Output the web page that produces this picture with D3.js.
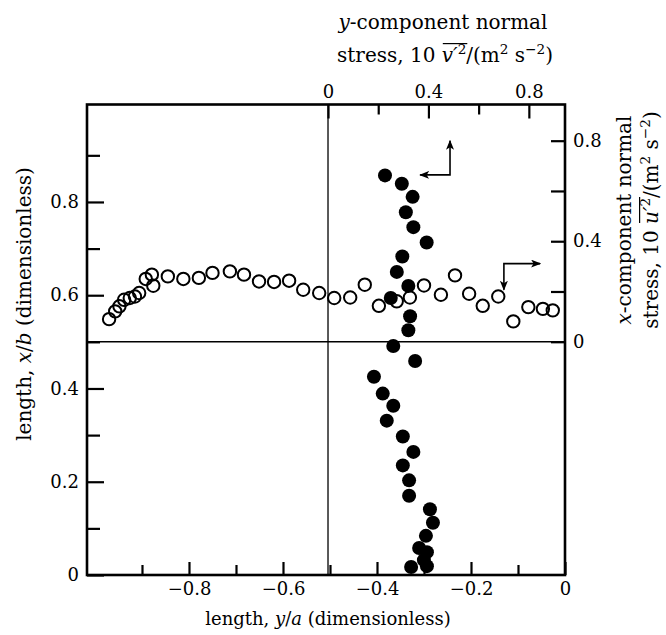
<!DOCTYPE html>
<html>
<head>
<meta charset="utf-8">
<script src="https://cdn.jsdelivr.net/npm/d3@7/dist/d3.min.js"></script>
<style>
  body { margin: 0; background: #fff; }
  svg { display: block; }
  text { font-family: "DejaVu Serif", "Liberation Serif", serif; fill: #000; }
</style>
</head>
<body>
<div id="chart"></div>
<script>
// filled circles: y-component normal stress (top axis) against x/b (left axis)
const filledV  = [0.227, 0.294, 0.337, 0.310, 0.340, 0.393, 0.296, 0.274, 0.320, 0.250,
                  0.327, 0.320, 0.260, 0.347, 0.183, 0.218, 0.260, 0.234, 0.298, 0.340,
                  0.298, 0.323, 0.323, 0.406, 0.418, 0.390, 0.363, 0.394, 0.382, 0.394, 0.331];
const filledXb = [0.857, 0.839, 0.811, 0.778, 0.746, 0.713, 0.683, 0.650, 0.620, 0.594,
                  0.555, 0.525, 0.491, 0.459, 0.425, 0.389, 0.363, 0.331, 0.297, 0.264,
                  0.235, 0.203, 0.170, 0.141, 0.112, 0.084, 0.058, 0.049, 0.032, 0.019, 0.017];

// open circles: y/a (bottom axis) against x-component normal stress (right axis)
const openYa = [-0.970, -0.957, -0.948, -0.938, -0.926, -0.915, -0.906, -0.892, -0.879, -0.876,
                -0.845, -0.812, -0.779, -0.750, -0.713, -0.683, -0.651, -0.619, -0.587, -0.557,
                -0.523, -0.491, -0.457, -0.426, -0.396, -0.358, -0.330, -0.300, -0.264, -0.234,
                -0.204, -0.175, -0.142, -0.110, -0.078, -0.047, -0.026];
const openU  = [0.090, 0.121, 0.141, 0.167, 0.174, 0.180, 0.194, 0.250, 0.267, 0.223,
                0.260, 0.250, 0.254, 0.274, 0.280, 0.267, 0.240, 0.238, 0.243, 0.207,
                0.194, 0.174, 0.176, 0.227, 0.143, 0.161, 0.176, 0.224, 0.187, 0.264,
                0.191, 0.143, 0.180, 0.081, 0.138, 0.131, 0.125];

const bottomMajor = [-0.8, -0.6, -0.4, -0.2, 0];
const bottomMinor = [-0.9, -0.7, -0.5, -0.3, -0.1];
const leftMajor = [0, 0.2, 0.4, 0.6, 0.8];
const leftMinor = [0.1, 0.3, 0.5, 0.7, 0.9];
const topMajor = [0, 0.4, 0.8];
const topMinor = [0.2, 0.6];
const rightMajor = [0, 0.4, 0.8];
const rightMinor = [0.2, 0.6];

const W = 666, H = 635;
const L = 87, R = 565, T = 104.5, B = 575;

const svg = d3.select("#chart").append("svg")
  .attr("width", W).attr("height", H);

const xBot = d3.scaleLinear().domain([-1.017, 0]).range([L, R]);
const yLeft = d3.scaleLinear().domain([0, 1.009]).range([B, T]);
const xTop = d3.scaleLinear().domain([-0.96, 0.944]).range([L, R]);
const yRight = d3.scaleLinear().domain([-0.928, 0.944]).range([B, T]);

const fmt = d => d === 0 ? "0" : d3.format(".1f")(d);

function styleAxis(g) {
  g.select(".domain").remove();
  g.attr("font-family", null).attr("font-size", 18);
  g.selectAll("line").attr("stroke", "#000").attr("stroke-width", 2.2);
  g.selectAll("text").style("font-family", "'DejaVu Serif', serif");
}

// bottom
svg.append("g").attr("transform", `translate(0,${B})`)
  .call(d3.axisBottom(xBot).tickValues(bottomMajor).tickSize(-13).tickPadding(7).tickFormat(fmt))
  .call(styleAxis);
svg.append("g").attr("transform", `translate(0,${B})`)
  .call(d3.axisBottom(xBot).tickValues(bottomMinor).tickSize(-10).tickFormat(""))
  .call(styleAxis);

// left
svg.append("g").attr("transform", `translate(${L},0)`)
  .call(d3.axisLeft(yLeft).tickValues(leftMajor).tickSize(-17).tickPadding(8).tickFormat(fmt))
  .call(styleAxis);
svg.append("g").attr("transform", `translate(${L},0)`)
  .call(d3.axisLeft(yLeft).tickValues(leftMinor).tickSize(-13).tickFormat(""))
  .call(styleAxis);

// top
svg.append("g").attr("transform", `translate(0,${T})`)
  .call(d3.axisTop(xTop).tickValues(topMajor).tickSize(-14).tickPadding(7).tickFormat(fmt))
  .call(styleAxis);
svg.append("g").attr("transform", `translate(0,${T})`)
  .call(d3.axisTop(xTop).tickValues(topMinor).tickSize(-10).tickFormat(""))
  .call(styleAxis);

// right
svg.append("g").attr("transform", `translate(${R},0)`)
  .call(d3.axisRight(yRight).tickValues(rightMajor).tickSize(-14).tickPadding(8).tickFormat(fmt))
  .call(styleAxis);
svg.append("g").attr("transform", `translate(${R},0)`)
  .call(d3.axisRight(yRight).tickValues(rightMinor).tickSize(-14).tickFormat(""))
  .call(styleAxis);

// zero lines of the stress axes
svg.append("line")
  .attr("x1", xTop(0)).attr("x2", xTop(0)).attr("y1", T).attr("y2", B)
  .attr("stroke", "#000").attr("stroke-width", 1.3);
svg.append("line")
  .attr("x1", L).attr("x2", R).attr("y1", yRight(0)).attr("y2", yRight(0))
  .attr("stroke", "#000").attr("stroke-width", 1.3);

// frame
svg.append("rect")
  .attr("x", L).attr("y", T).attr("width", R - L).attr("height", B - T)
  .attr("fill", "none").attr("stroke", "#000").attr("stroke-width", 2.6);

// points
svg.append("g").selectAll("circle")
  .data(filledV.map((v, i) => [v, filledXb[i]]))
  .join("circle")
  .attr("cx", d => xTop(d[0])).attr("cy", d => yLeft(d[1]))
  .attr("r", 7).attr("fill", "#000");

svg.append("g").selectAll("circle")
  .data(openYa.map((y, i) => [y, openU[i]]))
  .join("circle")
  .attr("cx", d => xBot(d[0])).attr("cy", d => yRight(d[1]))
  .attr("r", 6.2).attr("fill", "none").attr("stroke", "#000").attr("stroke-width", 2);

// arrows telling which axes belong to which symbol
const defs = svg.append("defs");
defs.append("marker").attr("id", "ah")
  .attr("viewBox", "0 0 10 8").attr("refX", 9).attr("refY", 4)
  .attr("markerWidth", 10).attr("markerHeight", 8)
  .attr("markerUnits", "userSpaceOnUse")
  .attr("orient", "auto-start-reverse")
  .append("path").attr("d", "M0,0 L10,4 L0,8 L2.5,4 Z").attr("fill", "#000");

const line = d3.line();
svg.append("path")
  .attr("d", line([[xTop(0.367), yLeft(0.858)], [xTop(0.486), yLeft(0.858)], [xTop(0.486), yLeft(0.931)]]))
  .attr("fill", "none").attr("stroke", "#000").attr("stroke-width", 1.6)
  .attr("marker-start", "url(#ah)").attr("marker-end", "url(#ah)");
svg.append("path")
  .attr("d", line([[xBot(-0.130), yRight(0.207)], [xBot(-0.130), yRight(0.311)], [xBot(-0.053), yRight(0.311)]]))
  .attr("fill", "none").attr("stroke", "#000").attr("stroke-width", 1.6)
  .attr("marker-start", "url(#ah)").attr("marker-end", "url(#ah)");

// rich text helper: parts with italic / superscript / overline flags
function richText(g, x, y, parts, size) {
  const t = g.append("text").attr("x", x).attr("y", y)
    .attr("text-anchor", "middle").attr("font-size", size);
  let up = false;
  parts.forEach(p => {
    const s = t.append("tspan").text(p.t);
    if (p.it) s.attr("font-style", "italic");
    if (p.sup && !up) { s.attr("dy", -size * 0.4).attr("font-size", size * 0.68); up = true; }
    else if (p.sup) { s.attr("font-size", size * 0.68); }
    else if (up) { s.attr("dy", size * 0.4); up = false; }
  });
  // overline over the flagged characters
  let idx = 0, first = -1, last = -1;
  parts.forEach(p => {
    if (p.ov) { if (first < 0) first = idx; last = idx + p.t.length - 1; }
    idx += p.t.length;
  });
  if (first >= 0) {
    const node = t.node();
    const x0 = node.getStartPositionOfChar(first).x;
    const x1 = node.getEndPositionOfChar(last).x;
    g.append("line").attr("x1", x0 + 1).attr("x2", x1 + 1)
      .attr("y1", y - size * 0.92).attr("y2", y - size * 0.92)
      .attr("stroke", "#000").attr("stroke-width", 1.2);
  }
  return t;
}

const ts = 20;
// top title
const gTop = svg.append("g");
richText(gTop, 443, 29, [{t: "y", it: true}, {t: "-component normal"}], ts);
richText(gTop, 445, 62, [{t: "stress, 10 "}, {t: "v′", it: true, ov: true}, {t: "2", sup: true, ov: true},
  {t: "/(m"}, {t: "2", sup: true}, {t: " s"}, {t: "−2", sup: true}, {t: ")"}], ts);

// right title
const gRight1 = svg.append("g").attr("transform", "translate(631,220) rotate(-90)");
richText(gRight1, 0, 0, [{t: "x", it: true}, {t: "-component normal"}], ts);
const gRight2 = svg.append("g").attr("transform", "translate(658,220) rotate(-90)");
richText(gRight2, 0, 0, [{t: "stress, 10 "}, {t: "u′", it: true, ov: true}, {t: "2", sup: true, ov: true},
  {t: "/(m"}, {t: "2", sup: true}, {t: " s"}, {t: "−2", sup: true}, {t: ")"}], ts);

// left title
const gLeft = svg.append("g").attr("transform", "translate(31,304) rotate(-90)");
richText(gLeft, 0, 0, [{t: "length, "}, {t: "x", it: true}, {t: "/"}, {t: "b", it: true}, {t: " (dimensionless)"}], ts);

// bottom title
richText(svg.append("g"), 328, 625, [{t: "length, "}, {t: "y", it: true}, {t: "/"}, {t: "a", it: true}, {t: " (dimensionless)"}], 18);
</script>
</body>
</html>
